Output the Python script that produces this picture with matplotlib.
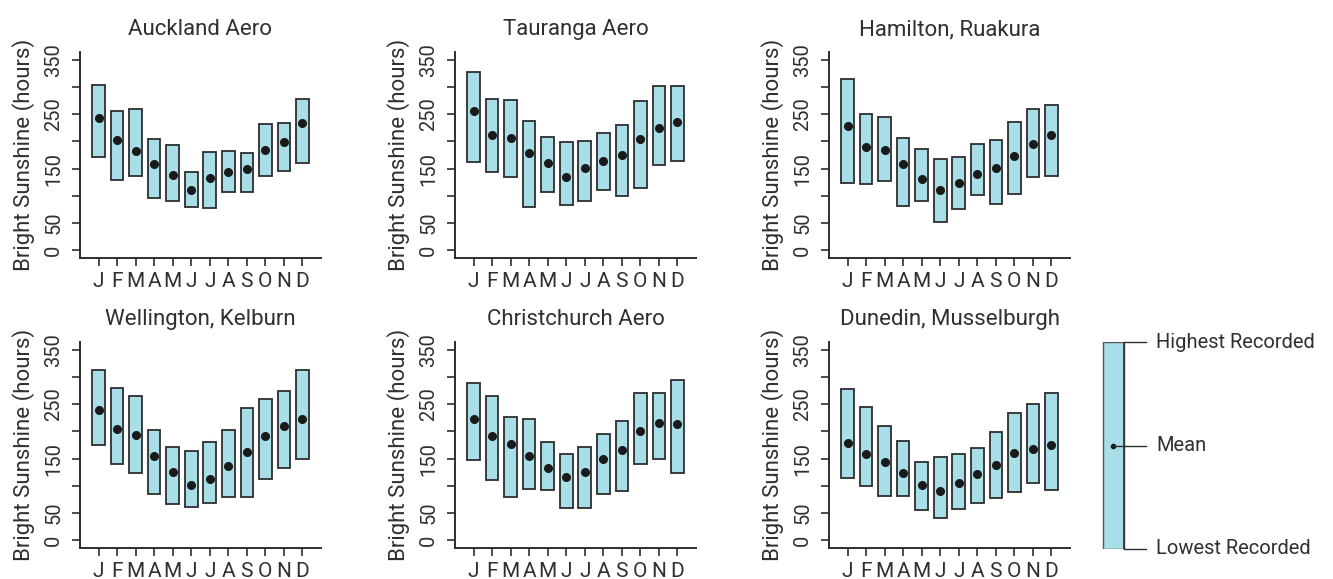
import numpy as np
import matplotlib
matplotlib.use("Agg")
import matplotlib.pyplot as plt

plt.rcParams['font.family'] = ['Roboto', 'DejaVu Sans']

months = ["J", "F", "M", "A", "M", "J", "J", "A", "S", "O", "N", "D"]
stations = ["Auckland Aero", "Tauranga Aero", "Hamilton, Ruakura",
            "Wellington, Kelburn", "Christchurch Aero", "Dunedin, Musselburgh"]

# highest / lowest / mean monthly bright sunshine hours
auckland_high = [304, 256, 259, 204, 194, 144, 180, 183, 178, 232, 234, 277]
auckland_low = [172, 130, 136, 97, 91, 80, 78, 107, 108, 136, 145, 161]
auckland_mean = [242, 203, 183, 159, 139, 111, 133, 144, 149, 185, 199, 234]

tauranga_high = [327, 277, 276, 237, 208, 198, 200, 215, 230, 274, 302, 302]
tauranga_low = [163, 144, 135, 80, 107, 84, 90, 110, 100, 115, 156, 164]
tauranga_mean = [256, 211, 207, 179, 161, 135, 151, 164, 175, 205, 225, 235]

hamilton_high = [315, 251, 244, 206, 186, 167, 172, 195, 202, 235, 260, 267]
hamilton_low = [124, 122, 127, 82, 91, 52, 76, 102, 85, 104, 135, 136]
hamilton_mean = [229, 190, 185, 159, 131, 110, 124, 141, 152, 174, 196, 211]

wellington_high = [312, 280, 265, 203, 172, 164, 181, 203, 243, 260, 275, 313]
wellington_low = [175, 141, 124, 86, 66, 61, 69, 79, 79, 113, 132, 149]
wellington_mean = [239, 205, 194, 154, 125, 102, 112, 136, 162, 191, 210, 223]

christchurch_high = [288, 265, 226, 223, 181, 159, 172, 195, 219, 270, 271, 294]
christchurch_low = [147, 111, 79, 94, 93, 59, 60, 86, 90, 141, 150, 124]
christchurch_mean = [223, 191, 177, 155, 133, 117, 125, 149, 165, 201, 215, 214]

dunedin_high = [278, 244, 209, 183, 144, 153, 159, 170, 198, 234, 251, 270]
dunedin_low = [114, 99, 82, 82, 55, 41, 58, 68, 77, 89, 105, 92]
dunedin_mean = [178, 158, 144, 124, 102, 91, 105, 122, 138, 161, 167, 175]

highs = [auckland_high, tauranga_high, hamilton_high,
         wellington_high, christchurch_high, dunedin_high]
lows = [auckland_low, tauranga_low, hamilton_low,
        wellington_low, christchurch_low, dunedin_low]
means = [auckland_mean, tauranga_mean, hamilton_mean,
         wellington_mean, christchurch_mean, dunedin_mean]

fill = "#A8DEE8"
edge = "#2e2e2e"
text_col = "#303030"

W, H = 1333, 579
fig = plt.figure(figsize=(W / 100, H / 100), dpi=100)

col_left = [80, 455, 829]
row_top = [52, 342]
ax_w, ax_h = 241, 206

x = np.arange(1, 13)
for i, name in enumerate(stations):
    r, c = divmod(i, 3)
    ax = fig.add_axes([col_left[c] / W, 1 - (row_top[r] + ax_h) / H, ax_w / W, ax_h / H])
    hi = np.array(highs[i])
    lo = np.array(lows[i])
    ax.bar(x, hi - lo, bottom=lo, width=0.68, color=fill, edgecolor=edge, linewidth=1.3)
    ax.plot(x, means[i], "o", color="#1a1a1a", markersize=5.5)
    ax.set_xlim(0, 13)
    ax.set_ylim(-14, 364)
    ax.set_xticks(x)
    ax.set_xticklabels(months)
    ax.set_yticks(range(0, 351, 50))
    ax.set_yticklabels(["0", "50", "", "150", "", "250", "", "350"], rotation=90, va="center")
    for s in ["top", "right"]:
        ax.spines[s].set_visible(False)
    for s in ["left", "bottom"]:
        ax.spines[s].set_linewidth(1.4)
        ax.spines[s].set_color(edge)
    ax.tick_params(axis="both", length=6, width=1.2, color=edge, labelcolor=text_col)
    ax.tick_params(axis="y", pad=6, labelsize=14.5)
    ax.tick_params(axis="x", pad=4, labelsize=15)
    ax.set_ylabel("Bright Sunshine (hours)", fontsize=16, color=text_col, labelpad=7)
    ax.set_title(name, fontsize=16, color=text_col, pad=12)

# key explaining the boxes
lg = fig.add_axes([1090 / W, 1 - (342 + 207) / H, 243 / W, 207 / H])
lg.set_xlim(0, 243)
lg.set_ylim(0, 1)
lg.axis("off")
lg.bar(23.5, 1, bottom=0, width=21, color=fill, edgecolor="#555555", linewidth=1.0)
lg.plot([34, 34], [0, 1], color=edge, linewidth=1.2)
lg.plot(23, 0.5, "o", color="#1a1a1a", markersize=3)
for yy, label in [(1, "Highest Recorded"), (0.5, "Mean"), (0, "Lowest Recorded")]:
    x0 = 23 if label == "Mean" else 34
    lg.plot([x0, 56], [yy, yy], color=edge, linewidth=1.0, clip_on=False)
    lg.text(66, yy, label, fontsize=14.5, color=text_col, va="center", ha="left")

fig.savefig("out.png", dpi=100)
